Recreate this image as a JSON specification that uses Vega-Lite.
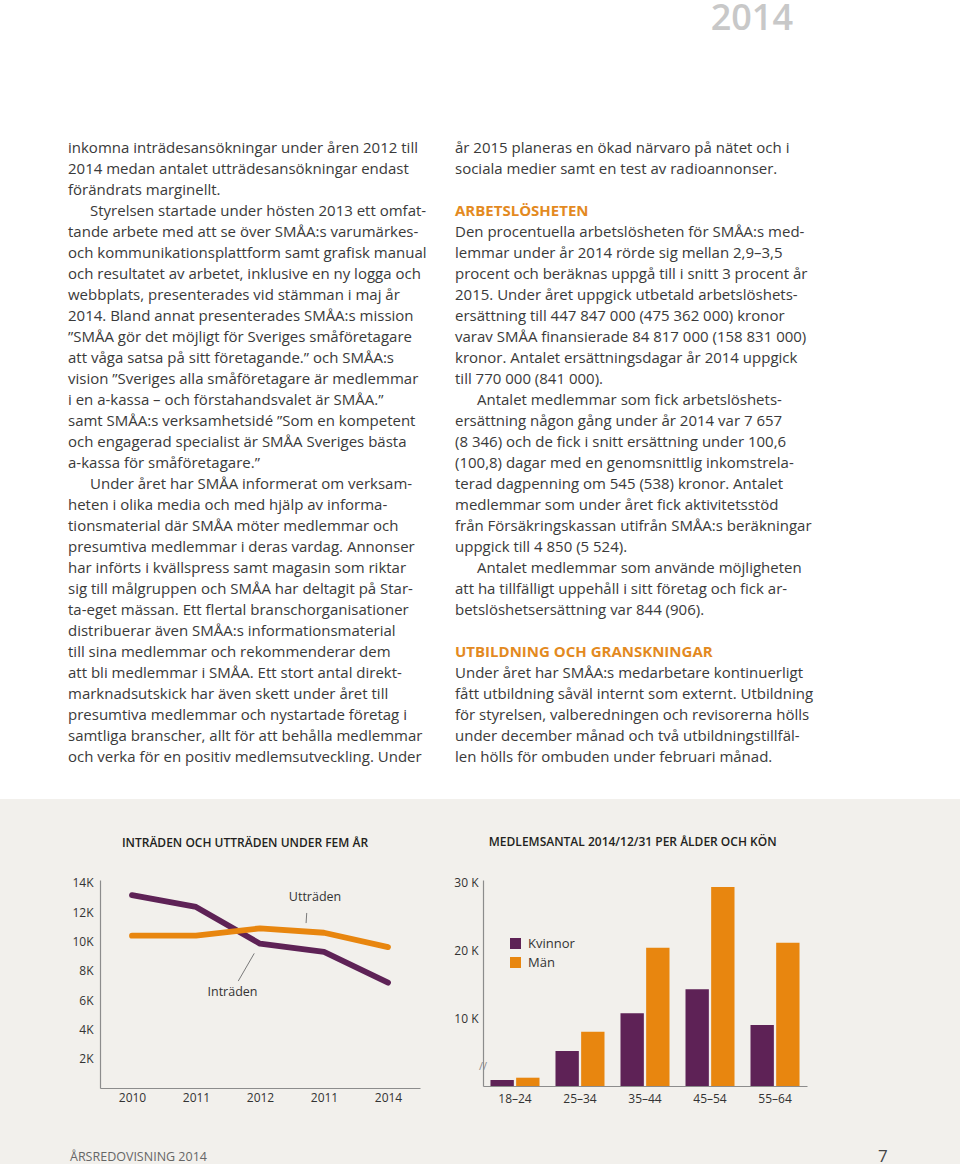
{
  "$schema": "https://vega.github.io/schema/vega-lite/v6.json",
  "background": "#f2f0ec",
  "padding": 0,
  "spacing": 0,
  "vconcat": [
    {
      "width": 960,
      "height": 799,
      "view": {"fill": "#ffffff", "stroke": null},
      "layer": [
        {
          "data": {"values": [
            {"col": "left", "line": 0, "kind": "body", "text": "inkomna inträdesansökningar under åren 2012 till"},
            {"col": "left", "line": 1, "kind": "body", "text": "2014 medan antalet utträdesansökningar endast"},
            {"col": "left", "line": 2, "kind": "body", "text": "förändrats marginellt."},
            {"col": "left", "line": 3, "kind": "first", "text": "Styrelsen startade under hösten 2013 ett omfat-"},
            {"col": "left", "line": 4, "kind": "body", "text": "tande arbete med att se över SMÅA:s varumärkes-"},
            {"col": "left", "line": 5, "kind": "body", "text": "och kommunikationsplattform samt grafisk manual"},
            {"col": "left", "line": 6, "kind": "body", "text": "och resultatet av arbetet, inklusive en ny logga och"},
            {"col": "left", "line": 7, "kind": "body", "text": "webbplats, presenterades vid stämman i maj år"},
            {"col": "left", "line": 8, "kind": "body", "text": "2014. Bland annat presenterades SMÅA:s mission"},
            {"col": "left", "line": 9, "kind": "body", "text": "”SMÅA gör det möjligt för Sveriges småföretagare"},
            {"col": "left", "line": 10, "kind": "body", "text": "att våga satsa på sitt företagande.” och SMÅA:s"},
            {"col": "left", "line": 11, "kind": "body", "text": "vision ”Sveriges alla småföretagare är medlemmar"},
            {"col": "left", "line": 12, "kind": "body", "text": "i en a-kassa – och förstahandsvalet är SMÅA.”"},
            {"col": "left", "line": 13, "kind": "body", "text": "samt SMÅA:s verksamhetsidé ”Som en kompetent"},
            {"col": "left", "line": 14, "kind": "body", "text": "och engagerad specialist är SMÅA Sveriges bästa"},
            {"col": "left", "line": 15, "kind": "body", "text": "a-kassa för småföretagare.”"},
            {"col": "left", "line": 16, "kind": "first", "text": "Under året har SMÅA informerat om verksam-"},
            {"col": "left", "line": 17, "kind": "body", "text": "heten i olika media och med hjälp av informa-"},
            {"col": "left", "line": 18, "kind": "body", "text": "tionsmaterial där SMÅA möter medlemmar och"},
            {"col": "left", "line": 19, "kind": "body", "text": "presumtiva medlemmar i deras vardag. Annonser"},
            {"col": "left", "line": 20, "kind": "body", "text": "har införts i kvällspress samt magasin som riktar"},
            {"col": "left", "line": 21, "kind": "body", "text": "sig till målgruppen och SMÅA har deltagit på Star-"},
            {"col": "left", "line": 22, "kind": "body", "text": "ta-eget mässan. Ett flertal branschorganisationer"},
            {"col": "left", "line": 23, "kind": "body", "text": "distribuerar även SMÅA:s informationsmaterial"},
            {"col": "left", "line": 24, "kind": "body", "text": "till sina medlemmar och rekommenderar dem"},
            {"col": "left", "line": 25, "kind": "body", "text": "att bli medlemmar i SMÅA. Ett stort antal direkt-"},
            {"col": "left", "line": 26, "kind": "body", "text": "marknadsutskick har även skett under året till"},
            {"col": "left", "line": 27, "kind": "body", "text": "presumtiva medlemmar och nystartade företag i"},
            {"col": "left", "line": 28, "kind": "body", "text": "samtliga branscher, allt för att behålla medlemmar"},
            {"col": "left", "line": 29, "kind": "body", "text": "och verka för en positiv medlemsutveckling. Under"},
            {"col": "right", "line": 0, "kind": "body", "text": "år 2015 planeras en ökad närvaro på nätet och i"},
            {"col": "right", "line": 1, "kind": "body", "text": "sociala medier samt en test av radioannonser."},
            {"col": "right", "line": 3, "kind": "head", "text": "ARBETSLÖSHETEN"},
            {"col": "right", "line": 4, "kind": "body", "text": "Den procentuella arbetslösheten för SMÅA:s med-"},
            {"col": "right", "line": 5, "kind": "body", "text": "lemmar under år 2014 rörde sig mellan 2,9–3,5"},
            {"col": "right", "line": 6, "kind": "body", "text": "procent och beräknas uppgå till i snitt 3 procent år"},
            {"col": "right", "line": 7, "kind": "body", "text": "2015. Under året uppgick utbetald arbetslöshets-"},
            {"col": "right", "line": 8, "kind": "body", "text": "ersättning till 447 847 000 (475 362 000) kronor"},
            {"col": "right", "line": 9, "kind": "body", "text": "varav SMÅA finansierade 84 817 000 (158 831 000)"},
            {"col": "right", "line": 10, "kind": "body", "text": "kronor. Antalet ersättningsdagar år 2014 uppgick"},
            {"col": "right", "line": 11, "kind": "body", "text": "till 770 000 (841 000)."},
            {"col": "right", "line": 12, "kind": "first", "text": "Antalet medlemmar som fick arbetslöshets-"},
            {"col": "right", "line": 13, "kind": "body", "text": "ersättning någon gång under år 2014 var 7 657"},
            {"col": "right", "line": 14, "kind": "body", "text": "(8 346) och de fick i snitt ersättning under 100,6"},
            {"col": "right", "line": 15, "kind": "body", "text": "(100,8) dagar med en genomsnittlig inkomstrela-"},
            {"col": "right", "line": 16, "kind": "body", "text": "terad dagpenning om 545 (538) kronor. Antalet"},
            {"col": "right", "line": 17, "kind": "body", "text": "medlemmar som under året fick aktivitetsstöd"},
            {"col": "right", "line": 18, "kind": "body", "text": "från Försäkringskassan utifrån SMÅA:s beräkningar"},
            {"col": "right", "line": 19, "kind": "body", "text": "uppgick till 4 850 (5 524)."},
            {"col": "right", "line": 20, "kind": "first", "text": "Antalet medlemmar som använde möjligheten"},
            {"col": "right", "line": 21, "kind": "body", "text": "att ha tillfälligt uppehåll i sitt företag och fick ar-"},
            {"col": "right", "line": 22, "kind": "body", "text": "betslöshetsersättning var 844 (906)."},
            {"col": "right", "line": 24, "kind": "head", "text": "UTBILDNING OCH GRANSKNINGAR"},
            {"col": "right", "line": 25, "kind": "body", "text": "Under året har SMÅA:s medarbetare kontinuerligt"},
            {"col": "right", "line": 26, "kind": "body", "text": "fått utbildning såväl internt som externt. Utbildning"},
            {"col": "right", "line": 27, "kind": "body", "text": "för styrelsen, valberedningen och revisorerna hölls"},
            {"col": "right", "line": 28, "kind": "body", "text": "under december månad och två utbildningstillfäl-"},
            {"col": "right", "line": 29, "kind": "body", "text": "len hölls för ombuden under februari månad."}
          ]},
          "encoding": {
            "x": {"field": "col", "type": "nominal", "scale": {"type": "point", "domain": ["left", "right"], "range": [68, 455], "padding": 0}, "axis": null},
            "y": {"field": "line", "type": "quantitative", "scale": {"domain": [0, 29], "range": [152.5, 761.5], "zero": false, "nice": false}, "axis": null},
            "text": {"field": "text"}
          },
          "layer": [
            {"transform": [{"filter": "datum.kind == 'body'"}], "mark": {"type": "text", "align": "left", "baseline": "alphabetic", "fontSize": 15, "font": "Open Sans", "color": "#3a3a3a"}},
            {"transform": [{"filter": "datum.kind == 'first'"}], "mark": {"type": "text", "align": "left", "baseline": "alphabetic", "fontSize": 15, "font": "Open Sans", "color": "#3a3a3a", "dx": 22}},
            {"transform": [{"filter": "datum.kind == 'head'"}], "mark": {"type": "text", "align": "left", "baseline": "alphabetic", "fontSize": 15, "font": "Open Sans", "fontWeight": "bold", "color": "#e38a1f"}}
          ]
        },
        {
          "data": {"values": [{"slot": "page", "text": "2014"}]},
          "mark": {"type": "text", "align": "right", "baseline": "alphabetic", "fontSize": 36, "font": "Open Sans", "fontWeight": 600, "color": "#c8c8c8"},
          "encoding": {
            "x": {"field": "slot", "type": "nominal", "scale": {"type": "point", "range": [793, 793]}, "axis": null},
            "y": {"field": "slot", "type": "nominal", "scale": {"type": "point", "range": [30, 30]}, "axis": null},
            "text": {"field": "text"}
          }
        }
      ],
      "resolve": {"scale": {"x": "independent", "y": "independent"}}
    },
    {
      "width": 960,
      "height": 37,
      "data": {"values": [{}]},
      "mark": {"type": "text"},
      "encoding": {"text": {"value": ""}}
    },
    {
      "spacing": 0,
      "resolve": {"scale": {"color": "independent"}, "legend": {"color": "independent"}},
      "hconcat": [
        {
          "width": 71,
          "height": 10,
          "data": {"values": [{}]},
          "mark": {"type": "text"},
          "encoding": {"text": {"value": ""}}
        },
        {
          "width": 320,
          "height": 208,
          "title": {"text": "INTRÄDEN OCH UTTRÄDEN UNDER FEM ÅR", "anchor": "start", "dx": 50, "offset": 27, "fontSize": 12, "fontWeight": 600, "font": "Open Sans", "color": "#231f20"},
          "encoding": {
            "x": {"field": "year", "type": "quantitative", "scale": {"domain": [2009.5, 2014.5], "nice": false, "zero": false},
              "axis": {"values": [2010, 2011, 2012, 2013, 2014], "labelExpr": "datum.value == 2013 ? '2011' : format(datum.value, 'd')", "title": null, "ticks": false, "grid": false, "labelPadding": 4, "labelFlush": false, "labelOverlap": false}},
            "y": {"field": "value", "type": "quantitative", "scale": {"domain": [0, 14200], "nice": false},
              "axis": {"values": [2000, 4000, 6000, 8000, 10000, 12000, 14000], "labelExpr": "(datum.value / 1000) + 'K'", "title": null, "ticks": false, "grid": false, "labelPadding": 7, "labelOverlap": false}}
          },
          "layer": [
            {
              "data": {"values": [
                {"year": 2010, "series": "Inträden", "value": 13170},
                {"year": 2011, "series": "Inträden", "value": 12360},
                {"year": 2012, "series": "Inträden", "value": 9850},
                {"year": 2013, "series": "Inträden", "value": 9300},
                {"year": 2014, "series": "Inträden", "value": 7190},
                {"year": 2010, "series": "Utträden", "value": 10400},
                {"year": 2011, "series": "Utträden", "value": 10400},
                {"year": 2012, "series": "Utträden", "value": 10900},
                {"year": 2013, "series": "Utträden", "value": 10600},
                {"year": 2014, "series": "Utträden", "value": 9620}
              ]},
              "mark": {"type": "line", "strokeWidth": 5.8, "strokeCap": "round", "strokeJoin": "round"},
              "encoding": {
                "color": {"field": "series", "type": "nominal", "scale": {"domain": ["Inträden", "Utträden"], "range": ["#5e2256", "#e8860f"]}, "legend": null}
              }
            },
            {
              "data": {"values": [
                {"year": 2012.73, "value": 11950, "year2": 2012.72, "value2": 11260},
                {"year": 2011.66, "value": 7300, "year2": 2011.91, "value2": 9190}
              ]},
              "mark": {"type": "rule", "color": "#7a7a7a", "strokeWidth": 1},
              "encoding": {
                "x2": {"field": "year2"},
                "y2": {"field": "value2"}
              }
            },
            {
              "data": {"values": [
                {"year": 2012.86, "value": 13040, "label": "Utträden"},
                {"year": 2011.57, "value": 6550, "label": "Inträden"}
              ]},
              "mark": {"type": "text", "fontSize": 12.5, "font": "Open Sans", "color": "#333333", "baseline": "middle", "align": "center"},
              "encoding": {
                "text": {"field": "label"}
              }
            }
          ]
        },
        {
          "width": 33,
          "height": 10,
          "data": {"values": [{}]},
          "mark": {"type": "text"},
          "encoding": {"text": {"value": ""}}
        },
        {
          "width": 324,
          "height": 206,
          "title": {"text": "MEDLEMSANTAL 2014/12/31 PER ÅLDER OCH KÖN", "anchor": "start", "dx": 35, "offset": 27, "fontSize": 12, "fontWeight": 600, "font": "Open Sans", "color": "#231f20"},
          "layer": [
            {
              "data": {"values": [
                {"age": "18–24", "sex": "Kvinnor", "count": 880},
                {"age": "18–24", "sex": "Män", "count": 1220},
                {"age": "25–34", "sex": "Kvinnor", "count": 5150},
                {"age": "25–34", "sex": "Män", "count": 7990},
                {"age": "35–44", "sex": "Kvinnor", "count": 10690},
                {"age": "35–44", "sex": "Män", "count": 20340},
                {"age": "45–54", "sex": "Kvinnor", "count": 14220},
                {"age": "45–54", "sex": "Män", "count": 29260},
                {"age": "55–64", "sex": "Kvinnor", "count": 8970},
                {"age": "55–64", "sex": "Män", "count": 21070}
              ]},
              "mark": {"type": "bar"},
              "encoding": {
                "x": {"field": "age", "type": "nominal", "sort": null, "scale": {"domain": ["18–24", "25–34", "35–44", "45–54", "55–64"], "paddingInner": 0.246, "paddingOuter": 0.115},
                  "axis": {"title": null, "ticks": false, "labelAngle": 0, "labelPadding": 7, "grid": false}},
                "xOffset": {"field": "sex", "type": "nominal", "sort": ["Kvinnor", "Män"], "scale": {"paddingInner": 0.09, "paddingOuter": 0}},
                "y": {"field": "count", "type": "quantitative", "scale": {"domain": [0, 30300], "nice": false},
                  "axis": {"values": [10000, 20000, 30000], "labelExpr": "(datum.value / 1000) + ' K'", "title": null, "ticks": false, "grid": false, "labelPadding": 5, "labelOverlap": false}},
                "color": {"field": "sex", "type": "nominal", "sort": ["Kvinnor", "Män"], "scale": {"domain": ["Kvinnor", "Män"], "range": ["#5e2256", "#e8860f"]},
                  "legend": {"title": null, "orient": "none", "legendX": 26, "legendY": 57, "symbolType": "square", "symbolSize": 121, "symbolStrokeWidth": 0, "labelFontSize": 13, "labelFont": "Open Sans", "labelColor": "#333333", "rowPadding": 5, "labelOffset": 6, "padding": 0}}
              }
            },
            {
              "data": {"values": [{"age": "18–24", "count": 2800, "mark": "//"}]},
              "mark": {"type": "text", "fontSize": 11, "font": "Open Sans", "color": "#8c8c8c", "baseline": "middle", "align": "center", "dx": -7.5},
              "encoding": {
                "x": {"field": "age", "type": "nominal", "bandPosition": 0},
                "y": {"field": "count", "type": "quantitative"},
                "text": {"field": "mark"}
              }
            }
          ]
        }
      ]
    },
    {
      "width": 960,
      "height": 106,
      "data": {"values": [
        {"pos": "left", "text": "ÅRSREDOVISNING 2014"},
        {"pos": "right", "text": "7"}
      ]},
      "encoding": {
        "x": {"field": "pos", "type": "nominal", "scale": {"type": "point", "domain": ["left", "right"], "range": [70, 878], "padding": 0}, "axis": null},
        "text": {"field": "text"}
      },
      "layer": [
        {"transform": [{"filter": "datum.pos == 'left'"}], "mark": {"type": "text", "align": "left", "baseline": "middle", "fontSize": 12.5, "font": "Open Sans", "color": "#666666"}},
        {"transform": [{"filter": "datum.pos == 'right'"}], "mark": {"type": "text", "align": "left", "baseline": "middle", "fontSize": 17, "font": "Open Sans", "color": "#444444"}}
      ]
    }
  ],
  "config": {
    "font": "Open Sans",
    "view": {"stroke": null},
    "axis": {"domainColor": "#8c8c8c", "domainWidth": 1.2, "labelColor": "#333333", "labelFontSize": 12, "labelFont": "Open Sans", "ticks": false, "grid": false, "labelOverlap": false}
  }
}
